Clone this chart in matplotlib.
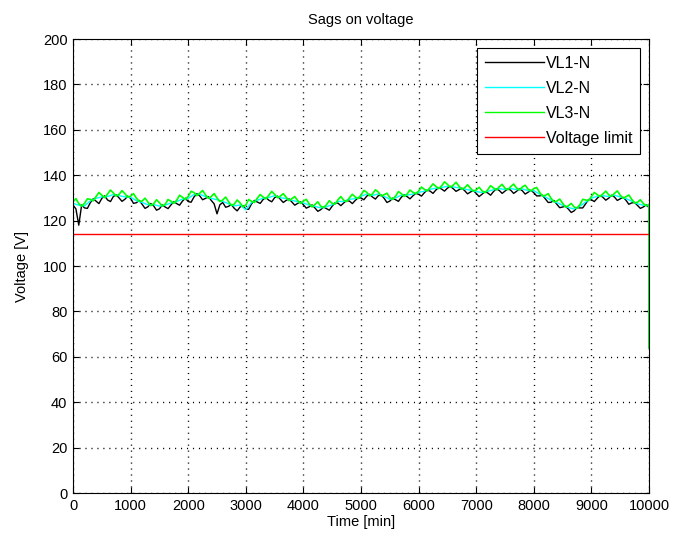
#!/usr/bin/env python3
import matplotlib
matplotlib.use("Agg")
import matplotlib.pyplot as plt

plt.rcParams['font.family'] = ['Liberation Sans', 'DejaVu Sans']

# fine time axis (every 50 min) for VL1 / VL3, coarse (every 100 min) for VL2,
# each ending with the drop at t = 10000
time_fine = list(range(0, 10001, 50)) + [10000]
time_coarse = list(range(0, 10001, 100)) + [10000]

vl1 = [126.8, 125.2, 118.0, 126.9, 125.6, 125.4, 127.9, 129.6, 128.6, 127.5,
       129.8, 130.9, 129.1, 128.4, 130.6, 131.4, 130.0, 128.5, 129.4, 130.8,
       129.8, 127.6, 127.9, 128.9, 127.2, 125.4, 126.1, 127.5, 126.5, 124.6,
       125.2, 126.9, 126.0, 125.3, 126.9, 128.4, 127.5, 126.8, 128.6, 129.9,
       128.4, 128.1, 130.4, 131.9, 130.9, 129.2, 129.8, 130.6, 128.9, 127.4,
       123.0, 127.0, 128.0, 125.9, 126.3, 127.1, 125.4, 124.3, 126.0, 126.6,
       125.1, 125.0, 127.4, 128.9, 128.2, 127.6, 129.3, 130.2, 129.0, 128.3,
       130.1, 130.8, 129.4, 128.0, 128.9, 129.6, 128.2, 126.8, 127.6, 128.3,
       127.0, 125.5, 126.1, 126.9, 125.6, 124.1, 124.8, 126.0, 125.3, 124.6,
       126.4, 127.9, 127.7, 126.6, 127.8, 128.9, 128.6, 127.5, 128.9, 130.1,
       130.0, 129.2, 130.8, 131.6, 130.4, 129.5, 131.0, 131.3, 129.9, 128.0,
       128.6, 129.9, 129.2, 128.5, 130.3, 131.4, 130.6, 129.6, 130.9, 132.0,
       131.6, 130.8, 132.3, 133.5, 133.0, 132.0, 133.5, 134.6, 133.9, 133.0,
       134.3, 135.1, 134.1, 132.9, 133.6, 134.3, 133.2, 131.8, 132.6, 133.3,
       132.0, 130.6, 131.6, 132.8, 132.2, 131.2, 132.8, 134.0, 133.3, 132.0,
       133.0, 134.1, 133.4, 132.0, 132.9, 134.0, 133.2, 131.7, 132.5, 133.4,
       132.3, 130.9, 130.9, 131.2, 129.6, 128.0, 128.1, 128.9, 127.2, 125.7,
       126.0, 126.4, 125.1, 123.6, 124.3, 125.8, 125.6, 125.6, 127.4, 129.3,
       129.2, 128.4, 129.8, 131.1, 130.3, 129.0, 129.9, 131.2, 130.4, 128.9,
       129.6, 130.3, 129.0, 127.2, 127.8, 128.0, 126.7, 125.4, 126.0, 126.9,
       125.8, 64.0]

vl2 = [127.6, 126.8, 126.5, 128.7, 129.8, 130.5, 130.6, 131.5, 131.0, 130.5,
       130.3, 128.8, 128.0, 127.0, 127.1, 126.4, 126.8, 127.8, 128.4, 129.5,
       129.8, 131.5, 131.6, 130.6, 129.8, 129.2, 128.5, 127.4, 126.5, 126.9,
       124.8, 128.0, 129.0, 129.9, 130.2, 131.0, 130.1, 129.7, 129.0, 128.3,
       127.8, 126.8, 126.3, 125.6, 126.1, 127.0, 128.5, 128.4, 129.4, 129.7,
       130.7, 131.7, 131.1, 131.8, 130.7, 129.4, 130.0, 131.2, 131.2, 131.7,
       132.4, 133.0, 133.8, 134.3, 134.6, 135.1, 134.9, 134.4, 133.9, 133.4,
       132.8, 132.4, 132.9, 133.6, 134.1, 133.7, 134.2, 133.6, 134.0, 133.2,
       133.2, 131.7, 130.4, 129.0, 127.9, 126.8, 125.8, 125.1, 126.3, 128.2,
       129.9, 130.7, 131.0, 130.6, 131.2, 130.4, 129.7, 128.6, 127.4, 126.8,
       126.5, 64.0]

vl3 = [128.3, 129.7, 127.5, 126.4, 127.6, 129.6, 129.4, 128.7, 130.6, 132.4,
       131.2, 130.1, 131.7, 133.5, 132.2, 130.8, 131.6, 133.2, 131.9, 130.3,
       130.8, 131.9, 129.9, 128.6, 128.6, 129.9, 128.2, 126.6, 127.4, 129.2,
       127.9, 126.4, 127.2, 129.3, 128.6, 127.6, 129.0, 131.2, 130.3, 129.3,
       130.7, 132.9, 132.4, 131.0, 132.1, 133.3, 131.4, 129.8, 130.6, 131.9,
       130.0, 128.4, 129.1, 130.4, 128.4, 126.7, 127.3, 129.1, 127.8, 126.1,
       126.9, 129.3, 128.5, 128.0, 129.9, 131.5, 130.4, 129.6, 131.2, 132.9,
       131.6, 130.1, 130.8, 131.9, 130.3, 128.8, 129.7, 130.6, 128.9, 127.6,
       128.6, 129.4, 127.4, 126.0, 127.1, 128.3, 126.4, 125.7, 127.0, 128.8,
       127.6, 127.3, 129.2, 130.6, 129.0, 128.4, 130.1, 131.6, 130.4, 129.7,
       131.3, 133.3, 132.5, 130.9, 131.8, 133.6, 132.6, 130.8, 131.4, 132.1,
       130.2, 129.3, 130.8, 132.8, 131.9, 130.6, 131.7, 133.5, 132.5, 131.9,
       133.0, 134.8, 133.8, 133.1, 134.6, 136.2, 135.1, 134.1, 135.3, 137.1,
       136.0, 134.7, 135.6, 136.9, 135.2, 133.8, 134.5, 135.8, 134.3, 133.0,
       133.5, 134.7, 133.2, 132.3, 133.6, 135.4, 134.4, 133.5, 134.9, 136.0,
       134.3, 133.6, 135.0, 136.1, 134.4, 133.5, 134.8, 135.6, 133.9, 133.1,
       134.1, 134.6, 132.5, 130.9, 131.1, 131.9, 129.8, 128.3, 128.6, 129.5,
       127.7, 126.0, 126.5, 127.6, 126.0, 125.5, 127.0, 129.4, 129.1, 128.8,
       130.6, 132.4, 131.5, 130.6, 131.8, 133.0, 131.4, 130.7, 132.0, 133.1,
       131.2, 129.9, 130.5, 131.3, 129.4, 127.8, 128.1, 129.2, 127.6, 126.5,
       127.2, 64.0]

voltage_limit = 114.3
x_ticks = list(range(0, 10001, 1000))
y_ticks = list(range(0, 201, 20))


def make_plot():
    fig = plt.figure(figsize=(6.83, 5.40), dpi=100)
    ax = fig.add_axes([0.1069, 0.0870, 0.8433, 0.8407])

    ax.plot(time_fine, vl1, color='k', lw=1.0, label='VL1-N')
    ax.plot(time_coarse, vl2, color=(0, 1, 1), lw=1.0, label='VL2-N')
    ax.plot(time_fine, vl3, color=(0, 1, 0), lw=1.2, label='VL3-N')
    ax.axhline(voltage_limit, color='r', lw=1.0, label='Voltage limit')

    ax.set_xlim(0, 10000)
    ax.set_ylim(0, 200)
    ax.set_xticks(x_ticks)
    ax.set_yticks(y_ticks)
    ax.tick_params(direction='in', length=4.2, width=0.8, top=True, right=True,
                   labelsize=10.5, pad=4)
    ax.grid(True, color='k', linestyle=(0, (0.8, 3.5)), linewidth=1.0)
    ax.set_axisbelow(True)
    for sp in ax.spines.values():
        sp.set_linewidth(0.8)

    ax.set_title('Sags on voltage', fontsize=10.5, pad=11)
    ax.set_xlabel('Time [min]', fontsize=10.5, labelpad=2)
    ax.set_ylabel('Voltage [V]', fontsize=10.5, labelpad=10)

    leg = ax.legend(loc='upper right', fontsize=11.5, handlelength=3.7,
                    handletextpad=0.1, labelspacing=0.62, borderpad=0.5,
                    borderaxespad=0.55, fancybox=False, framealpha=1)
    leg.get_frame().set_edgecolor('k')
    leg.get_frame().set_linewidth(0.8)
    for line in leg.get_lines():
        line.set_linewidth(1.0)

    fig.savefig('out.png', dpi=100)
    plt.close(fig)


if __name__ == "__main__":
    make_plot()
